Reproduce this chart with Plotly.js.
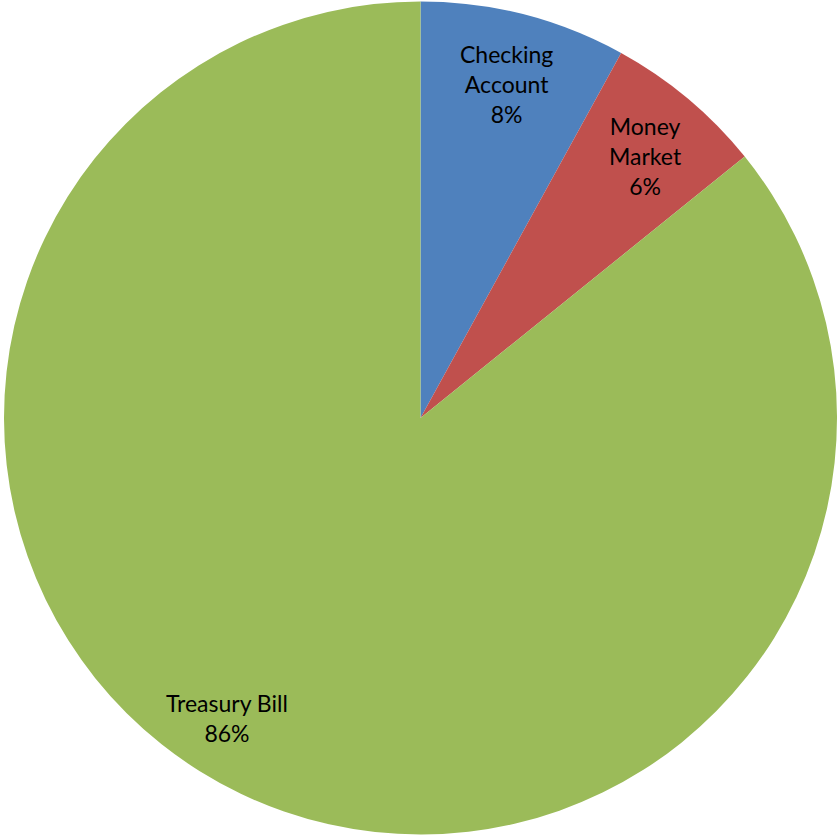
<!DOCTYPE html>
<html>
<head>
<meta charset="utf-8">
<script src="https://cdn.plot.ly/plotly-3.0.1.min.js"></script>
<style>html,body{margin:0;padding:0;background:#fff;}#chart{width:840px;height:837px;}</style>
</head>
<body>
<div id="chart"></div>
<script>
// Data
const labels = ["Checking Account", "Money Market", "Treasury Bill"];
const labelLines = [["Checking", "Account"], ["Money", "Market"], ["Treasury Bill"]];
const values = [8.0, 6.2, 85.8];
const colors = ["#4F81BD", "#C0504D", "#9BBB59"];

const W = 840, H = 837;
const total = values.reduce((a, b) => a + b, 0);
const pct = values.map(v => Math.round(v / total * 100) + "%");

// label anchor spots (pixel) for annotations
const labelSpots = [[507, 84], [645, 156], [227, 718]];

const annotations = labels.map((l, i) => ({
  xref: "paper", yref: "paper",
  x: labelSpots[i][0] / W, y: 1 - labelSpots[i][1] / H,
  xanchor: "center", yanchor: "middle",
  showarrow: false,
  text: labelLines[i].concat([pct[i]]).join("<br>"),
  align: "center",
  font: {family: "Lato, 'Open Sans', sans-serif", size: 23, color: "#000"}
}));

const trace = {
  type: "pie",
  labels: labels,
  values: values,
  sort: false,
  direction: "clockwise",
  rotation: 0,
  marker: {colors: colors, line: {width: 0}},
  textinfo: "none",
  hoverinfo: "label+percent",
  showlegend: false,
  domain: {x: [4 / W, 837 / W], y: [1 - 834.5 / H, 1 - 1.5 / H]}
};

const layout = {
  width: W, height: H,
  margin: {l: 0, r: 0, t: 0, b: 0},
  paper_bgcolor: "#fff",
  showlegend: false,
  annotations: annotations
};

Plotly.newPlot("chart", [trace], layout, {displayModeBar: false, staticPlot: true});
</script>
</body>
</html>
